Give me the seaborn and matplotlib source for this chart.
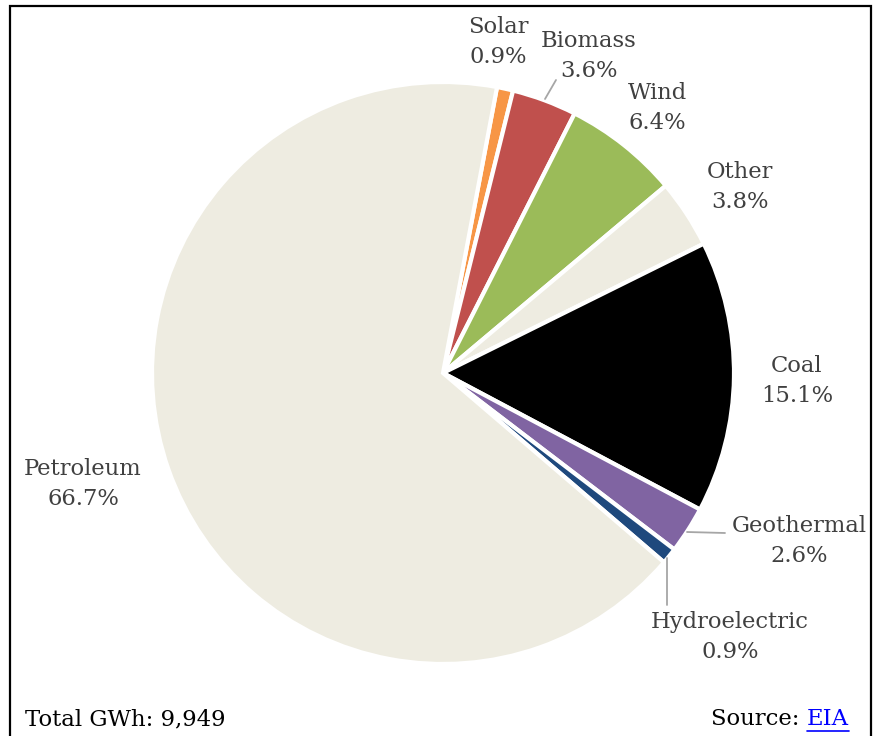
import matplotlib
matplotlib.use("Agg")
import matplotlib.pyplot as plt
import seaborn as sns
from matplotlib.patches import Rectangle
from matplotlib.lines import Line2D

# ---- data ----
sources = ["Solar", "Biomass", "Wind", "Other", "Coal", "Geothermal", "Hydroelectric", "Petroleum"]
shares = [0.9, 3.6, 6.4, 3.8, 15.1, 2.6, 0.9, 66.7]
colors = ["#F79646", "#C0504D", "#9BBB59", "#EEECE1", "#000000", "#8064A2", "#1F497D", "#EEECE1"]
total_label = "Total GWh: 9,949"
source_name = "EIA"

sns.set_style("white")
plt.rcParams['font.family'] = ['DejaVu Serif']

W, H = 874, 736
fig = plt.figure(figsize=(W / 100, H / 100), dpi=100)

def fx(px):
    return px / W

def fy(py):
    return 1 - py / H

cx, cy, R = 443, 373, 291
ax = fig.add_axes([fx(cx - R), fy(cy + R), 2 * R / W, 2 * R / H])
ax.pie(shares, colors=colors, startangle=79.3, counterclock=False, radius=1.0,
       wedgeprops=dict(edgecolor='white', linewidth=3.0, joinstyle='miter'))
ax.set_xlim(-1, 1)
ax.set_ylim(-1, 1)
ax.set_aspect('auto')
ax.axis('off')

# label layout (pixel centres)
label_pos = {
    "Solar": (498, 42),
    "Biomass": (589, 56),
    "Wind": (657, 108),
    "Other": (740, 187),
    "Coal": (797, 381),
    "Geothermal": (799, 541),
    "Hydroelectric": (730, 637),
    "Petroleum": (83, 484),
}
for name, val in zip(sources, shares):
    px, py = label_pos[name]
    fig.text(fx(px), fy(py), f"{name}\n{val:.1f}%", ha='center', va='center',
             fontsize=16.3, color='#404040', linespacing=1.42)

leaders = [((545, 99), (556, 80)), ((687, 532), (725, 533)), ((667, 558), (667, 605))]
for (x1, y1), (x2, y2) in leaders:
    fig.add_artist(Line2D([fx(x1), fx(x2)], [fy(y1), fy(y2)], transform=fig.transFigure,
                          color='#A6A6A6', lw=1.3))

# frame
fig.add_artist(Rectangle((fx(10), fy(760)), fx(871) - fx(10), fy(6) - fy(760),
                         transform=fig.transFigure, fill=False, edgecolor='black', lw=1.6))

# footer
fs = 16.4
fig.text(fx(25), fy(719), total_label, ha='left', va='center', fontsize=fs, color='black')
eia = fig.text(fx(849), fy(719), source_name, ha='right', va='center', fontsize=fs,
               color='#0000FF')
fig.canvas.draw()
r = fig.canvas.get_renderer()
bb = eia.get_window_extent(r)
fig.text(bb.x0 / W, fy(719), "Source: ", ha='right', va='center', fontsize=fs, color='black')
fig.add_artist(Line2D([bb.x0 / W, bb.x1 / W], [fy(731), fy(731)], transform=fig.transFigure,
                      color='#0000FF', lw=1.2))

fig.savefig("out.png", dpi=100)
